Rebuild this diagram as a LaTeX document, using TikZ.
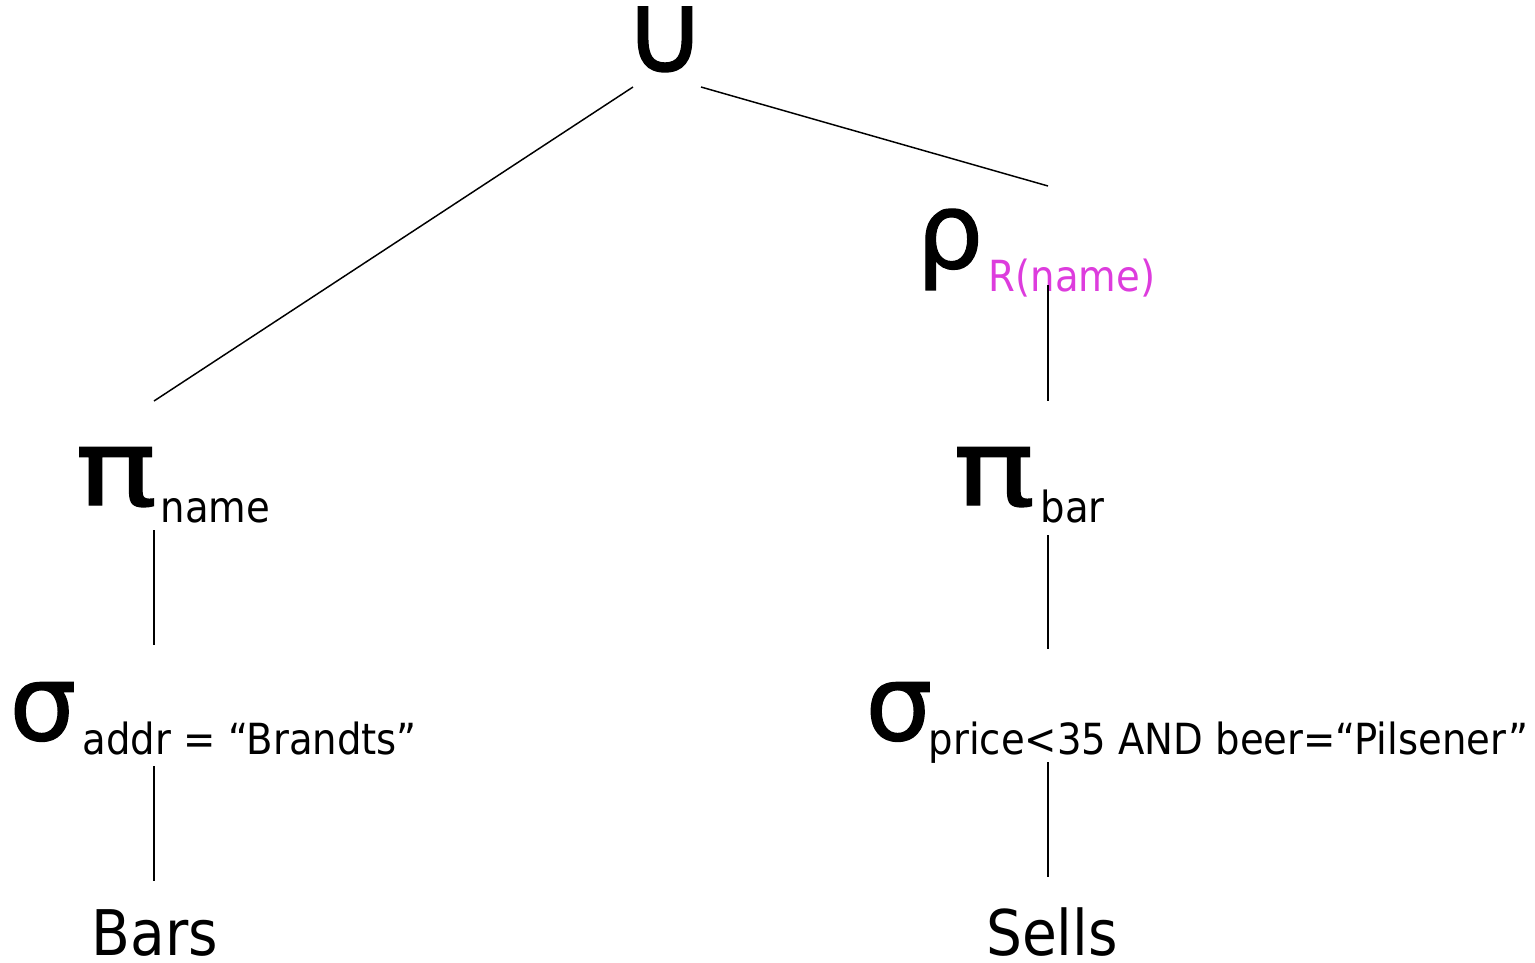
\documentclass[tikz,border=0pt]{standalone}
\usepackage{fontspec}
\setmainfont{DejaVu Sans Condensed}
\newfontfamily\opglyphs[FakeBold=1.2]{DejaVu Sans}
\newfontfamily\opwide[FakeBold=1.2, FakeStretch=1.3]{DejaVu Sans}
\definecolor{renamepink}{RGB}{221,60,221}

\tikzset{
  opsym/.style={inner sep=0pt, anchor=base east, font=\opglyphs\fontsize{30pt}{36pt}\selectfont},
  projsym/.style={opsym, font=\opwide\fontsize{30pt}{36pt}\selectfont},
  subtxt/.style={inner sep=0pt, anchor=base west, font=\fontsize{12.2pt}{15pt}\selectfont},
  relname/.style={inner sep=0pt, anchor=base, text depth=0pt, font=\fontsize{17.9pt}{21pt}\selectfont},
  treeedge/.style={draw, line width=0.42pt}
}

\begin{document}
\begin{tikzpicture}[x=0.01cm, y=-0.01cm]
    \useasboundingbox (0,0) rectangle (1535,963);

    % root
    \node (cup) [opsym, anchor=base, text height=0.6cm, font=\opglyphs\fontsize{32pt}{36pt}\selectfont] at (665,72) {∪};

    % left branch
    \node (pil) [projsym] at (158,505) {π};
    \node (pilsub) [subtxt] at (160,522) {name};
    \node (sigl) [opsym] at (77,740) {σ};
    \node (siglsub) [subtxt] at (82,754) {addr = “Brandts”};
    \node (bars) [relname] at (155,955) {Bars};

    % right branch
    \node (rho) [opsym] at (984,268) {ρ};
    \node (rhosub) [subtxt, text=renamepink] at (988,291) {R(name)};
    \node (pir) [projsym] at (1036,505) {π};
    \node (pirsub) [subtxt] at (1040,522) {bar};
    \node (sigr) [opsym] at (933,740) {σ};
    \node (sigrsub) [subtxt] at (928,754) {price<35 AND beer=“Pilsener”};
    \node (sells) [relname] at (1052,955) {Sells};

    \draw[treeedge] ([shift={(-32,15)}]cup.base) -- ([shift={(-4,-104)}]pil.base east);
    \draw[treeedge] ([shift={(36,15)}]cup.base) -- ([shift={(64,-82)}]rho.base east);
    \draw[treeedge] ([shift={(64,17)}]rho.base east) -- ([shift={(12,-104)}]pir.base east);
    \draw[treeedge] ([shift={(-4,25)}]pil.base east) -- ([shift={(77,-95)}]sigl.base east);
    \draw[treeedge] ([shift={(12,30)}]pir.base east) -- ([shift={(115,-91)}]sigr.base east);
    \draw[treeedge] ([shift={(77,26)}]sigl.base east) -- ([shift={(-1,-74)}]bars.base);
    \draw[treeedge] ([shift={(115,22)}]sigr.base east) -- ([shift={(-4,-78)}]sells.base);
\end{tikzpicture}
\end{document}
